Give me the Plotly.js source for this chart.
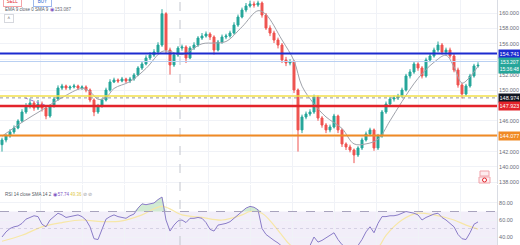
<!DOCTYPE html>
<html><head><meta charset="utf-8">
<script src="https://cdn.plot.ly/plotly-3.0.1.min.js"></script>
<style>html,body{margin:0;padding:0;background:#fff;overflow:hidden}#chart{width:520px;height:245px}</style>
</head><body><div id="chart"></div>
<script>
// ---- data ----
const barIndex = [0,1,2,3,4,5,6,7,8,9,10,11,12,13,14,15,16,17,18,19,20,21,22,23,24,25,26,27,28,29,30,31,32,33,34,35,36,37,38,39,40,41,42,43,44,45,46,47,48,49,50,51,52,53,54,55,56,57,58,59,60,61,62,63,64,65,66,67,68,69,70,71,72,73,74,75,76,77,78,79,80,81,82,83,84,85,86,87,88,89,90,91,92,93,94,95,96,97,98,99,100,101,102,103,104,105,106,107,108,109,110,111,112,113,114,115,116,117,118,119];
const openP = [142.90,143.51,144.03,144.55,145.06,145.97,147.14,147.92,148.31,147.66,148.18,147.66,146.62,147.92,148.83,150.26,150.52,150.26,150.39,150.52,150.26,150.39,150.00,148.70,147.14,147.92,148.70,150.00,151.04,151.30,151.17,151.43,151.17,151.43,151.95,152.86,153.38,154.16,154.55,154.94,155.84,159.90,155.20,153.25,154.55,155.45,155.58,154.16,155.45,155.84,156.75,157.01,157.27,156.88,155.19,156.23,156.88,157.01,157.40,158.44,159.48,160.39,160.91,161.17,161.04,161.30,159.74,158.05,157.40,156.49,155.84,153.90,153.51,153.64,150.00,144.81,146.49,146.88,147.14,149.09,146.36,145.45,144.81,145.19,146.62,144.81,142.99,142.60,142.21,141.56,142.47,143.51,144.29,144.81,142.47,144.03,147.14,148.18,148.83,148.96,149.22,150.00,151.82,152.34,153.38,152.86,151.82,153.90,154.42,155.19,155.84,154.94,155.19,154.42,152.60,150.65,149.48,150.52,151.82,153.12];
const highP = [143.8,144.3,144.9,145.4,146.2,147.5,148.3,148.9,148.6,148.7,148.5,147.9,148.1,149.1,150.6,150.8,150.7,150.6,150.8,150.7,150.6,150.6,150.2,148.9,148.2,148.9,150.3,151.4,151.6,151.5,151.7,151.6,151.7,152.2,153.1,153.7,154.5,154.9,155.3,156.2,160.5,160.1,155.5,154.8,155.7,155.9,155.8,155.7,156.2,157.0,157.4,157.6,157.5,157.1,156.5,157.2,157.3,157.7,158.8,159.8,160.7,161.3,161.6,161.5,161.6,161.5,160.0,158.4,157.7,156.8,156.1,154.3,154.0,153.9,150.2,146.8,147.2,147.5,149.4,149.3,146.6,145.7,145.5,146.9,146.8,145.0,143.2,142.9,142.4,142.7,143.8,144.6,145.1,145.0,144.3,147.4,148.5,149.1,149.3,149.5,150.3,152.1,152.7,153.7,153.6,153.1,154.2,154.7,155.5,156.3,156.1,155.5,155.5,154.7,152.9,150.9,150.8,152.1,153.4,153.6];
const lowP = [142.0,143.2,143.8,144.3,144.9,145.8,146.9,147.6,147.3,147.4,147.2,146.2,146.4,147.7,148.6,150.0,150.0,150.0,150.2,150.0,150.0,149.7,148.4,146.6,146.9,147.7,148.5,149.8,150.9,150.9,151.0,150.9,150.9,151.2,151.8,152.6,153.2,153.9,154.3,154.7,155.6,154.8,152.0,153.0,154.3,155.1,153.5,154.0,155.2,155.6,156.5,156.8,156.5,154.6,155.0,156.0,156.6,156.8,157.2,158.2,159.3,160.1,160.7,160.7,160.8,159.4,157.8,157.0,156.1,155.4,153.5,153.1,153.2,149.6,142.0,144.4,146.2,146.6,146.9,146.0,145.1,144.4,144.5,145.0,144.4,142.6,142.2,141.9,140.5,141.3,142.2,143.3,144.0,142.1,142.2,143.8,146.9,147.9,148.5,148.7,149.0,149.8,151.5,152.1,152.5,151.5,151.6,153.6,154.2,154.9,154.6,154.6,154.1,152.3,150.3,148.9,149.2,150.3,151.6,152.9];
const closeP = [143.51,144.03,144.55,145.06,145.97,147.14,147.92,148.31,147.66,148.18,147.66,146.62,147.92,148.83,150.26,150.52,150.26,150.39,150.52,150.26,150.39,150.00,148.70,147.14,147.92,148.70,150.00,151.04,151.30,151.17,151.43,151.17,151.43,151.95,152.86,153.38,154.16,154.55,154.94,155.84,159.90,155.20,153.25,154.55,155.45,155.58,154.16,155.45,155.84,156.75,157.01,157.27,156.88,155.19,156.23,156.88,157.01,157.40,158.44,159.48,160.39,160.91,161.17,161.04,161.30,159.74,158.05,157.40,156.49,155.84,153.90,153.51,153.64,150.00,144.81,146.49,146.88,147.14,149.09,146.36,145.45,144.81,145.19,146.62,144.81,142.99,142.60,142.21,141.56,142.47,143.51,144.29,144.81,142.47,144.03,147.14,148.18,148.83,148.96,149.22,150.00,151.82,152.34,153.38,152.86,151.82,153.90,154.42,155.19,155.84,154.94,155.19,154.42,152.60,150.65,149.48,150.52,151.82,153.12,153.21];
const emaX = [0,5,10,15,20,22,24,26,28,32,36,40,42,45,50,53,56,60,64,66,70,73,75,78,81,85,88,91,94,97,100,104,108,111,113,115,117,119];
const emaY = [144.0,145.8,147.4,149.0,150.2,149.8,148.8,149.0,150.2,151.1,152.8,155.0,155.0,154.6,156.0,156.1,156.3,158.2,160.3,159.8,156.5,153.8,150.5,148.2,146.5,145.0,143.0,143.0,143.6,146.0,148.5,151.5,153.6,154.5,153.0,150.9,151.7,153.087];
const rsiVal = [40,46,50,52,53,56,61,63,65,64,55,52,60,64,68,66,63,64,65,66,64,60,52,38,37,50,61,64,66,64,63,62,65,67,74,79,78,79,80,84,87,60,47,54,59,60,57,62,62,63,62,57,49,47,54,55,56,58,62,66,71,74,76,75,72,50,43,39,36,33,29,27,26,22,20,24,27,30,40,34,36,39,42,45,37,31,28,26,24,30,37,46,52,45,56,64,64,65,65,66,68,70,69,68,66,60,63,65,67,68,63,60,56,52,43,38,37,45,55,57.74];
const smaX = [0,5,10,15,20,25,30,35,40,45,50,55,60,62,65,70,72,75,80,85,90,94,96,100,104,108,113,116,119];
const smaY = [35,42,52,57,60,58,59,66,76,66,63,60,66,70,68,42,31,24,22,23,25,28,42,60,68,66,60,54,49.36];
const trendX = [5.75,10.75];
const trendY = [148.96,148.05];
const priceTicks = [138,140,142,144,146,148,150,152,154,156,158,160,162];
const priceTickText = ['138.000','140.000','142.000','','146.000','','150.000','152.000','','156.000','158.000','160.000','162.000'];
const rsiTicks = [40,60,80];
const rsiTickText = ['40.00','60.00','80.00'];
const levelVals = [154.741,153.70,149.22,148.974,147.923,144.077];
const levelLabels = ['154.741','','','148.974','147.923','144.077'];
const lastPrice = 153.207;
const lastPriceLabel = '153.207';
const countdown = '15:36:48';
const emaLegendVal = '153.087';
const rsiLegendVals = ['57.74','49.36'];
const sessionBreak = 44.5;

// ---- styles ----
const levelColors = ['#1c2bd0','#b9d0f2','#f2df4a','#9598a1','#e3242b','#f08a24'];
const levelWidths = [2,1,1.5,1,2.5,2];
const levelDash = ['solid','solid','solid','dot','solid','solid'];
const labelBg = ['#1c2bd0',null,null,'#131722','#e3242b','#f08a24'];
const W = 497, H = 245;
const px = x => x / W, py = y => 1 - y / H;
const FONT = 'Liberation Sans, Arial, sans-serif';

const traces = [
  {type:'candlestick', x:barIndex, open:openP, high:highP, low:lowP, close:closeP,
   xaxis:'x', yaxis:'y', whiskerwidth:0,
   increasing:{line:{color:'#26a69a',width:1}, fillcolor:'#26a69a'},
   decreasing:{line:{color:'#ef5350',width:1}, fillcolor:'#ef5350'},
   hoverinfo:'skip', showlegend:false},
  {type:'scatter', mode:'lines', x:emaX, y:emaY, xaxis:'x', yaxis:'y',
   line:{color:'#a0a3ab',width:1, shape:'spline'}, hoverinfo:'skip', showlegend:false},
  {type:'scatter', mode:'lines', x:trendX, y:trendY, xaxis:'x', yaxis:'y',
   line:{color:'#9c7fd8',width:1,dash:'dot'}, hoverinfo:'skip', showlegend:false},
  {type:'scatter', mode:'lines', x:barIndex, y:barIndex.map(()=>70), xaxis:'x', yaxis:'y2',
   line:{width:0,color:'rgba(0,0,0,0)'}, hoverinfo:'skip', showlegend:false},
  {type:'scatter', mode:'lines', x:barIndex, y:rsiVal.map(v=>Math.max(v,70)), xaxis:'x', yaxis:'y2',
   fill:'tonexty', fillcolor:'rgba(76,175,80,0.25)', line:{width:0,color:'rgba(0,0,0,0)'}, hoverinfo:'skip', showlegend:false},
  {type:'scatter', mode:'lines', x:smaX, y:smaY, xaxis:'x', yaxis:'y2',
   line:{color:'#f7e7a6',width:1.2, shape:'spline'}, hoverinfo:'skip', showlegend:false},
  {type:'scatter', mode:'lines', x:barIndex, y:rsiVal, xaxis:'x', yaxis:'y2',
   line:{color:'#8a7cc8',width:1}, hoverinfo:'skip', showlegend:false}
];

const shapes = [];
shapes.push({type:'rect', xref:'paper', yref:'y2', x0:0, x1:1, y0:30, y1:70, fillcolor:'rgba(126,87,194,0.10)', line:{width:0}, layer:'below'});
shapes.push({type:'line', xref:'paper', yref:'y2', x0:0, x1:1, y0:70, y1:70, line:{color:'#a8a3bd',width:1,dash:'dash'}});
shapes.push({type:'line', xref:'paper', yref:'y2', x0:0, x1:1, y0:50, y1:50, line:{color:'rgba(160,155,190,0.35)',width:1,dash:'dot'}});
shapes.push({type:'line', xref:'x', yref:'paper', x0:sessionBreak, x1:sessionBreak, y0:0, y1:1, line:{color:'#c3c6ce',width:1,dash:'dash'}});
levelVals.forEach((v,i)=>{
  shapes.push({type:'line', xref:'paper', yref:'y', x0:0, x1:1, y0:v, y1:v, line:{color:levelColors[i], width:levelWidths[i], dash:levelDash[i]}});
});
shapes.push({type:'rect', xref:'paper', yref:'paper', x0:px(480), x1:px(489), y0:py(176), y1:py(171), fillcolor:'#fdecee', line:{color:'#f0a3aa',width:1}});
shapes.push({type:'rect', xref:'paper', yref:'paper', x0:px(479), x1:px(490), y0:py(183), y1:py(177), fillcolor:'#fdecee', line:{color:'#f0a3aa',width:1}});
shapes.push({type:'circle', xref:'paper', yref:'paper', x0:px(482.5), x1:px(486.5), y0:py(182), y1:py(178), fillcolor:'#fff', line:{color:'#e3242b',width:1}});

const ann = [];
levelVals.forEach((v,i)=>{
  if (!labelBg[i]) return;
  ann.push({xref:'paper', yref:'y', x:1, y:v, xanchor:'left', yanchor:'middle', xshift:1, text:levelLabels[i],
    showarrow:false, bgcolor:labelBg[i], font:{family:FONT,size:5.5,color:'#fff'}, borderpad:1, width:19});
});
ann.push({xref:'paper', yref:'y', x:1, y:lastPrice, xanchor:'left', yanchor:'middle', xshift:1, text:lastPriceLabel+'<br>'+countdown,
  showarrow:false, bgcolor:'#26a69a', font:{family:FONT,size:5,color:'#fff'}, borderpad:1, width:19});
ann.push({xref:'paper', yref:'paper', x:px(3), y:py(7), xanchor:'left', yanchor:'bottom', text:'SELL', showarrow:false,
  font:{family:FONT,size:4.5,color:'#e3242b'}, bordercolor:'#f4a4a9', borderwidth:1, bgcolor:'#fff', width:15, height:7});
ann.push({xref:'paper', yref:'paper', x:px(33), y:py(7), xanchor:'left', yanchor:'bottom', text:'BUY', showarrow:false,
  font:{family:FONT,size:4.5,color:'#1c5fd0'}, bordercolor:'#9db8ee', borderwidth:1, bgcolor:'#fff', width:15, height:7});
ann.push({xref:'paper', yref:'paper', x:px(3), y:py(9.5), xanchor:'left', yanchor:'middle', showarrow:false,
  text:'EMA 9 close 0 SMA 9 <span style="color:#7e57c2">◉</span> <span style="color:#6a6d78">'+emaLegendVal+'</span>',
  font:{family:FONT,size:4.5,color:'#555a66'}});
ann.push({xref:'paper', yref:'paper', x:px(4), y:py(18.5), xanchor:'left', yanchor:'middle', showarrow:false, text:'˄',
  font:{family:FONT,size:4.5,color:'#555'}, bordercolor:'#d6d8de', borderwidth:1, bgcolor:'#fff', width:6, height:5});
ann.push({xref:'paper', yref:'paper', x:px(3), y:py(194), xanchor:'left', yanchor:'middle', showarrow:false,
  text:'RSI 14 close SMA 14 2 <span style="color:#7e57c2">◉</span> <span style="color:#7e57c2">'+rsiLegendVals[0]+'</span> <span style="color:#e0c84a">'+rsiLegendVals[1]+'</span> <span style="color:#9598a1">⊘ ⊘</span>',
  font:{family:FONT,size:4.5,color:'#555a66'}});

const axisFont = {family:FONT, size:5.5, color:'#6a6d78'};
const layout = {
  width:520, height:245, margin:{l:0,r:23,t:0,b:0,pad:0},
  paper_bgcolor:'#fff', plot_bgcolor:'#fff', showlegend:false, dragmode:false,
  xaxis:{range:[-0.5,123.75], anchor:'y2', showticklabels:false, showgrid:true, gridcolor:'#f0f2f7', gridwidth:1,
         tick0:9.5, dtick:10.5, zeroline:false, showline:false, ticks:'', rangeslider:{visible:false}, fixedrange:true},
  yaxis:{domain:[0.249,1], range:[137.79,161.69], side:'right', tickmode:'array', tickvals:priceTicks, ticktext:priceTickText,
         gridcolor:'#f0f2f7', showline:true, linecolor:'#d9dce3', linewidth:1, ticks:'', zeroline:false,
         tickfont:axisFont, automargin:false, fixedrange:true},
  yaxis2:{domain:[0,0.245], range:[30.6,101.2], side:'right', tickmode:'array', tickvals:rsiTicks, ticktext:rsiTickText,
         gridcolor:'#f0f2f7', showline:true, linecolor:'#d9dce3', linewidth:1, ticks:'', zeroline:false,
         tickfont:axisFont, automargin:false, fixedrange:true},
  shapes:shapes, annotations:ann
};
Plotly.newPlot('chart', traces, layout, {staticPlot:true, displayModeBar:false});
</script></body></html>
